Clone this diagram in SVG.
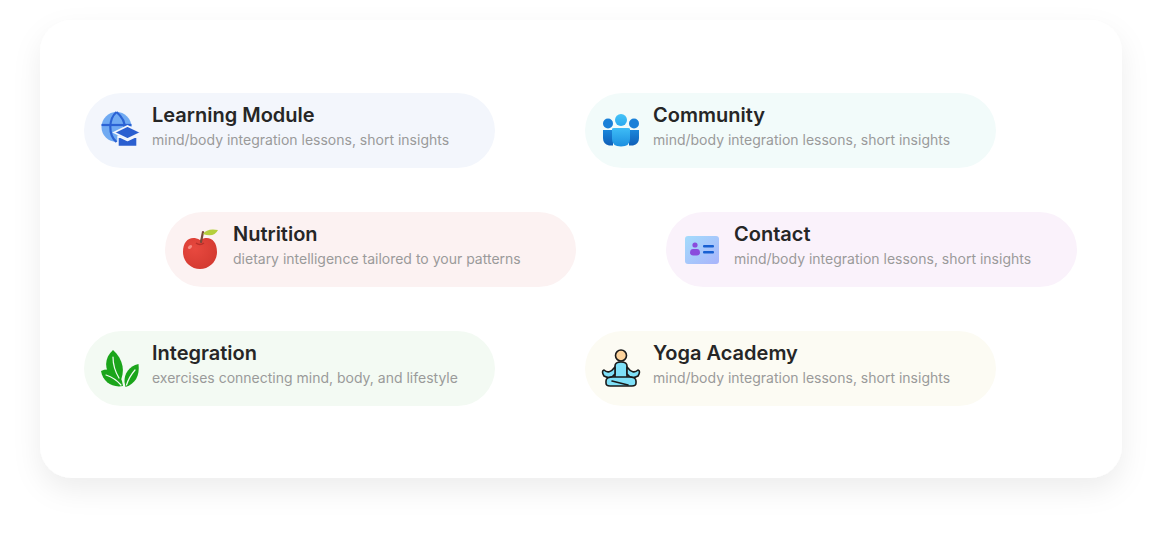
<svg xmlns="http://www.w3.org/2000/svg" width="1162" height="538" viewBox="0 0 1162 538">
  <defs>
    <filter id="cardShadow" x="-10%" y="-20%" width="120%" height="150%">
      <feDropShadow dx="0" dy="12" stdDeviation="14" flood-color="#000" flood-opacity="0.07"/>
    </filter>
    <linearGradient id="contactGrad" x1="0" y1="0" x2="1" y2="1">
      <stop offset="0" stop-color="#a3dcfc"/>
      <stop offset="1" stop-color="#a9b4fb"/>
    </linearGradient>
    <linearGradient id="headGrad" x1="0" y1="0" x2="0" y2="1">
      <stop offset="0" stop-color="#46c3f7"/>
      <stop offset="1" stop-color="#2aa9ef"/>
    </linearGradient>
    <linearGradient id="bodyCenter" x1="0" y1="0" x2="0" y2="1">
      <stop offset="0" stop-color="#3ebcf6"/>
      <stop offset="1" stop-color="#1c8fe0"/>
    </linearGradient>
    <linearGradient id="bodySide" x1="0" y1="0" x2="0" y2="1">
      <stop offset="0" stop-color="#1b86da"/>
      <stop offset="1" stop-color="#0f5fb8"/>
    </linearGradient>
    <radialGradient id="appleGrad" cx="0.35" cy="0.35" r="0.7">
      <stop offset="0" stop-color="#e8493f"/>
      <stop offset="1" stop-color="#d43a31"/>
    </radialGradient>
  </defs>
  <style>
    .title { font-family: Inter, "Liberation Sans", sans-serif; font-size: 20px; font-weight: 600; fill: #262626; }
    .sub { font-family: Inter, "Liberation Sans", sans-serif; font-size: 14px; font-weight: 400; fill: #9a9a9a; }
  </style>
  <rect width="1162" height="538" fill="#ffffff"/>
  <rect x="40" y="20" width="1082" height="458" rx="32" fill="#ffffff" filter="url(#cardShadow)"/>

  <g id="connectors"></g>

  <g id="node-learning">
    <rect x="84" y="93" width="411" height="75" rx="37.5" fill="#f3f6fc"/>
    <circle cx="116.5" cy="127" r="15" fill="#70aaf2"/>
    <g stroke="#2b62d4" stroke-width="2.2" fill="none">
      <path d="M116.5 112 C108.5 119 108 135 116.5 142"/>
      <path d="M116.5 112 C123.5 118 125 124 124.5 128"/>
      <line x1="101.5" y1="125" x2="131.5" y2="125"/>
    </g>
    <path d="M114 132.5 L127.5 126 L141 132.5 L127.5 139 Z" fill="#2b5fd0" stroke="#f3f6fc" stroke-width="1.6"/>
    <path d="M118 136 L118 146.5 L137 146.5 L137 136 L127.5 140.5 Z" fill="#2b5fd0" stroke="#f3f6fc" stroke-width="1.4" stroke-linejoin="round"/>
    <text class="title" x="152" y="122">Learning Module</text>
    <text class="sub" x="152" y="145">mind/body integration lessons, short insights</text>
  </g>

  <g id="node-community">
    <rect x="585" y="93" width="411" height="75" rx="37.5" fill="#f2fbfa"/>
    <circle cx="608" cy="123.5" r="5" fill="#1a80d8"/>
    <circle cx="634" cy="123.5" r="5" fill="#1a80d8"/>
    <path d="M603 130 L613 130 L613 145.5 L609 145.5 Q603 144 603 138 Z" fill="url(#bodySide)"/>
    <path d="M639 130 L629 130 L629 145.5 L633 145.5 Q639 144 639 138 Z" fill="url(#bodySide)"/>
    <circle cx="621" cy="120" r="6" fill="url(#headGrad)"/>
    <path d="M612 129 Q612 128 614 128 L628 128 Q630 128 630 129 L630 139 Q630 146.5 621 146.5 Q612 146.5 612 139 Z" fill="url(#bodyCenter)"/>
    <text class="title" x="653" y="122">Community</text>
    <text class="sub" x="653" y="145">mind/body integration lessons, short insights</text>
  </g>

  <g id="node-nutrition">
    <rect x="165" y="212" width="411" height="75" rx="37.5" fill="#fcf2f2"/>
    <path d="M200 240 C191 235 183 240 183 252 C183 262 191 269 200 269 C209 269 217 262 217 252 C217 240 209 235 200 240 Z" fill="url(#appleGrad)"/>
    <path d="M196 243 Q200 246 204 243" stroke="#b8302a" stroke-width="1.5" fill="none"/>
    <ellipse cx="190" cy="247" rx="2.5" ry="1.5" fill="#f58a82" transform="rotate(-40 190 247)"/>
    <path d="M201 242 L203 232" stroke="#7a4a3a" stroke-width="2.2" stroke-linecap="round"/>
    <path d="M203 234 Q207 228 218 230 Q214 238 203 234 Z" fill="#b5cf3d"/>
    <text class="title" x="233" y="241">Nutrition</text>
    <text class="sub" x="233" y="264">dietary intelligence tailored to your patterns</text>
  </g>

  <g id="node-contact">
    <rect x="666" y="212" width="411" height="75" rx="37.5" fill="#faf2fb"/>
    <rect x="685" y="236" width="34" height="28" rx="3" fill="url(#contactGrad)"/>
    <circle cx="695" cy="245" r="2.6" fill="#8a4cdc"/>
    <path d="M690 253 Q690 249 693 249 L697 249 Q700 249 700 253 Q700 255.5 695 255.5 Q690 255.5 690 253 Z" fill="#8a4cdc"/>
    <rect x="703" y="245" width="11" height="2.4" rx="1" fill="#1760d2"/>
    <rect x="703" y="251" width="11" height="2.4" rx="1" fill="#1760d2"/>
    <text class="title" x="734" y="241">Contact</text>
    <text class="sub" x="734" y="264">mind/body integration lessons, short insights</text>
  </g>

  <g id="node-integration">
    <rect x="84" y="331" width="411" height="75" rx="37.5" fill="#f3faf3"/>
    <g fill="#1ba51b">
      <path d="M113 350 C104 358 104 370 112 377 L120 382 C125 372 124 360 113 350 Z"/>
      <path d="M101 371 C110 367 119 372 122 381 L123 386 C112 388 103 382 101 371 Z"/>
      <path d="M138.5 364 C129 366 124 374 124.5 382 L125.5 387 C135 384 140 376 138.5 364 Z"/>
    </g>
    <g stroke="#f3faf3" stroke-width="1.2" fill="none" stroke-linecap="round">
      <path d="M113 357 Q113 368 119 378"/>
      <path d="M106 375 Q115 378 121 385"/>
      <path d="M135 370 Q129 377 126.5 385"/>
    </g>
    <text class="title" x="152" y="360">Integration</text>
    <text class="sub" x="152" y="383">exercises connecting mind, body, and lifestyle</text>
  </g>

  <g id="node-yoga">
    <rect x="585" y="331" width="411" height="75" rx="37.5" fill="#fcfbf3"/>
    <g stroke="#1a1a1a" stroke-width="1.6" stroke-linejoin="round" stroke-linecap="round">
      <path d="M615 366 L615 378 L627 378 L627 366 Q627 362 621 362 Q615 362 615 366 Z" fill="#7fe0f8"/>
      <path d="M615 367 Q609 375 604 370 Q601 371 604 376 Q611 380 615 374 Z" fill="#7fe0f8"/>
      <path d="M627 367 Q633 375 638 370 Q641 371 638 376 Q631 380 627 374 Z" fill="#7fe0f8"/>
      <path d="M606 381 Q606 377 613 377 L629 377 Q636 377 636 381 L636 383 Q636 386 632 386 L610 386 Q606 386 606 383 Z" fill="#7fe0f8"/>
      <path d="M612 381 L628 385" fill="none"/>
      <circle cx="621" cy="355.5" r="5.5" fill="#fdd39c"/>
    </g>
    <text class="title" x="653" y="360">Yoga Academy</text>
    <text class="sub" x="653" y="383">mind/body integration lessons, short insights</text>
  </g>
</svg>
